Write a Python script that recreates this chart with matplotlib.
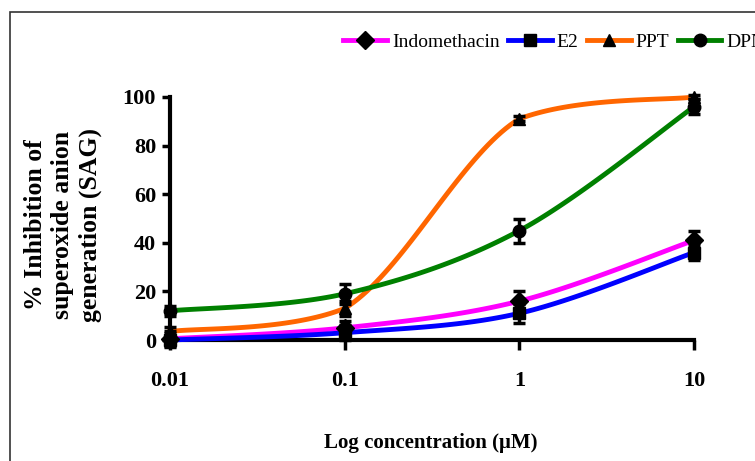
import numpy as np
import matplotlib
matplotlib.use('Agg')
import matplotlib.pyplot as plt
from matplotlib.patches import Rectangle

# data
conc = [0.01, 0.1, 1, 10]
names = ['Indomethacin', 'E2', 'PPT', 'DPN']
indo = [0.5, 5, 16, 41]
e2 = [0, 3, 11, 36]
ppt = [3.5, 13, 91, 100]
dpn = [12, 19, 45, 96]
indo_err = [3, 3, 4, 4]
e2_err = [3, 3, 4, 3]
ppt_err = [2, 3, 1, 1]
dpn_err = [2, 4, 5, 3]

series = [indo, e2, ppt, dpn]
errs = [indo_err, e2_err, ppt_err, dpn_err]
colors = ['#FF00FF', '#0000FF', '#FF6600', '#008000']
markers = ['D', 's', '^', 'o']

plt.rcParams['font.family'] = ['Liberation Serif', 'DejaVu Serif']

fig = plt.figure(figsize=(7.55, 4.61), dpi=100)
W, H = 755, 461
ax = fig.add_axes([170 / W, (H - 340) / H, (694 - 170) / W, (340 - 97) / H])
ax.set_xscale('log')
ax.set_xlim(0.01, 10)
ax.set_ylim(0, 100)

# frame round the chart area
fig.add_artist(Rectangle((10 / W, -0.1), 1.0, (H - 12) / H + 0.1, transform=fig.transFigure,
                         fill=False, edgecolor='#333333', linewidth=1.2))

axw, axh = 694 - 170, 340 - 97


def smooth(xs, ys, n=40):
    # bezier smoothing in pixel space, control points kept inside each segment's y range
    px = (np.log10(xs) + 2) / 3 * axw
    py = np.asarray(ys, float) / 100 * axh
    pts = np.column_stack([px, py])
    out = []
    t = np.linspace(0, 1, n)[:, None]
    for i in range(len(pts) - 1):
        p0 = pts[max(i - 1, 0)]
        p1 = pts[i]
        p2 = pts[i + 1]
        p3 = pts[min(i + 2, len(pts) - 1)]
        c1 = p1 + (p2 - p0) / 6
        c2 = p2 - (p3 - p1) / 6
        lo, hi = min(p1[1], p2[1]), max(p1[1], p2[1])
        c1[1] = np.clip(c1[1], lo, hi)
        c2[1] = np.clip(c2[1], lo, hi)
        seg = ((1 - t) ** 3) * p1 + 3 * ((1 - t) ** 2) * t * c1 + 3 * (1 - t) * t ** 2 * c2 + t ** 3 * p2
        out.append(seg)
    out = np.vstack(out)
    return 10 ** (out[:, 0] / axw * 3 - 2), out[:, 1] / axh * 100


for vals, err, col, mk, name in zip(series, errs, colors, markers, names):
    sx, sy = smooth(conc, vals)
    ax.plot(sx, sy, color=col, lw=3.5, zorder=3, clip_on=False)
    ax.errorbar(conc, vals, yerr=err, fmt='none', ecolor='black', elinewidth=2.5,
                capsize=4.5, capthick=2.5, zorder=4, clip_on=False)
    ax.plot(conc, vals, linestyle='none', marker=mk, color='black', markersize=9,
            zorder=5, clip_on=False)
    # legend handle
    ax.plot([], [], color=col, lw=3.5, marker=mk, markerfacecolor='black',
            markeredgecolor='black', markersize=9, label=name)

for s in ['top', 'right']:
    ax.spines[s].set_visible(False)
ax.spines['left'].set_linewidth(3)
ax.spines['bottom'].set_linewidth(3)
ax.spines['left'].set_zorder(2)
ax.spines['bottom'].set_zorder(2)

ax.set_yticks([0, 20, 40, 60, 80, 100])
ax.set_xticks(conc)
ax.set_xticklabels(['0.01', '0.1', '1', '10'])
ax.xaxis.set_minor_locator(matplotlib.ticker.NullLocator())
ax.tick_params(axis='y', length=6, width=2.5, labelsize=16, pad=4)
ax.tick_params(axis='x', length=7, width=2.5, labelsize=16, pad=15)
for lab in ax.get_xticklabels() + ax.get_yticklabels():
    lab.set_fontweight('bold')

fig.text(63 / W, 1 - 225 / H, '% Inhibition of\nsuperoxide anion\ngeneration (SAG)',
         rotation=90, ha='center', va='center', fontsize=18.5, fontweight='bold',
         linespacing=1.25)
fig.text(431 / W, 1 - 443 / H, 'Log concentration (\u03bcM)', ha='center', va='center',
         fontsize=15, fontweight='bold')

fig.legend(loc='center left', bbox_to_anchor=(343 / W, 1 - 42 / H), ncol=4, frameon=False,
           fontsize=14, handlelength=2.25, handletextpad=0.26, columnspacing=0.43,
           borderaxespad=0, borderpad=0)

fig.savefig('out.png', dpi=100)
